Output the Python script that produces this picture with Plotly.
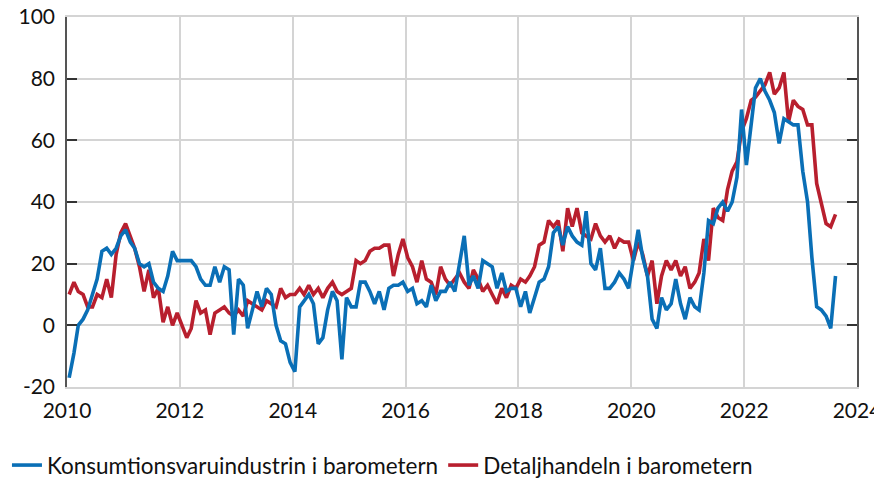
import pandas as pd
import plotly.graph_objects as go

start_month = "2010-01-01"
n_months = 164

konsumtion = [
    -17, -9, 0, 2, 5, 10, 15, 24, 25, 23, 25, 29,
    31, 27, 25, 20, 19, 20, 14, 12, 11, 16, 24, 21,
    21, 21, 21, 19, 15, 13, 13, 19, 14, 19, 18, -3,
    15, 13, -1, 5, 11, 6, 12, 10, 0, -5, -6, -12,
    -15, 6, 8, 10, 7, -6, -4, 5, 11, 8, -11, 9,
    6, 6, 14, 14, 11, 7, 11, 5, 12, 13, 13, 14,
    11, 12, 7, 8, 6, 13, 8, 11, 11, 14, 11, 20,
    29, 13, 16, 12, 21, 20, 19, 12, 17, 11, 12, 12,
    6, 11, 4, 9, 14, 15, 19, 30, 32, 26, 32, 29,
    27, 26, 37, 20, 18, 25, 12, 12, 14, 17, 15, 12,
    22, 31, 22, 16, 2, -1, 9, 5, 7, 15, 7, 2,
    9, 6, 5, 17, 34, 33, 38, 40, 37, 40, 48, 70,
    52, 65, 77, 80, 76, 73, 69, 59, 67, 66, 65, 65,
    50, 40, 22, 6, 5, 3, -1, 16,
]

detaljhandel = [
    10, 14, 11, 10, 6, 6, 10, 9, 15, 9, 23, 30,
    33, 29, 25, 19, 11, 18, 9, 12, 1, 6, 0, 4,
    0, -4, -1, 8, 4, 5, -3, 4, 5, 6, 4, 3,
    5, 3, 8, 7, 6, 5, 8, 7, 6, 12, 9, 10,
    10, 12, 10, 13, 10, 12, 9, 12, 14, 11, 10, 11,
    12, 21, 20, 21, 24, 25, 25, 26, 26, 16, 23, 28,
    22, 19, 14, 21, 15, 14, 10, 19, 15, 13, 15, 17,
    14, 12, 18, 15, 11, 13, 10, 7, 12, 9, 13, 12,
    15, 14, 16, 19, 26, 27, 34, 32, 34, 24, 38, 32,
    38, 30, 29, 28, 33, 29, 27, 29, 25, 28, 27, 27,
    21, 27, 23, 16, 21, 7, 16, 21, 18, 21, 16, 19,
    12, 14, 17, 28, 21, 38, 35, 34, 44, 50, 53, 63,
    67, 73, 74, 76, 78, 82, 75, 77, 82, 66, 73, 71,
    70, 65, 65, 46, 40, 33, 32, 36,
]

series_names = ["Konsumtionsvaruindustrin i barometern", "Detaljhandeln i barometern"]
y_ticks = [-20, 0, 20, 40, 60, 80, 100]
y_tick_text = ["-20", "0", "20", "40", "60", "80", "100"]

dates = pd.date_range(start_month, periods=n_months, freq="MS") + pd.Timedelta(days=14)
assert len(konsumtion) == n_months and len(detaljhandel) == n_months

BLUE = "#0a6fb6"
RED = "#b81f2e"
FONT = "Lato, 'Liberation Sans', sans-serif"

fig = go.Figure()
fig.add_trace(go.Scatter(x=dates, y=detaljhandel, mode="lines", name=series_names[1],
                         line=dict(color=RED, width=3.6), legendrank=2))
fig.add_trace(go.Scatter(x=dates, y=konsumtion, mode="lines", name=series_names[0],
                         line=dict(color=BLUE, width=3.6), legendrank=1))

fig.update_layout(
    width=874, height=471,
    margin=dict(l=59, r=25, t=9, b=92, autoexpand=False),
    paper_bgcolor="white", plot_bgcolor="white",
    font=dict(family=FONT, size=21, color="#111111"),
    showlegend=True,
    legend=dict(orientation="h", x=-0.076, xanchor="left", y=-0.212, yanchor="middle",
                font=dict(size=22.5), itemwidth=30, tracegroupgap=0, bgcolor="rgba(0,0,0,0)"),
)
fig.update_xaxes(
    type="date", automargin=False,
    range=["2010-01-01", "2024-01-01"],
    dtick="M24", tick0="2010-01-01", tickformat="%Y",
    showgrid=True, gridcolor="#d4d4d4", gridwidth=1.5,
    showline=True, linecolor="#d4d4d4", linewidth=1.5, mirror=True,
    ticks="", ticklabelstandoff=4, ticklabeloverflow="allow",
    zeroline=False,
)
fig.update_yaxes(
    automargin=False,
    range=[-20, 100], tickvals=y_ticks, ticktext=y_tick_text,
    showgrid=True, gridcolor="#d4d4d4", gridwidth=1.5,
    showline=True, linecolor="#555555", linewidth=1.5, mirror="ticks",
    ticks="inside", ticklen=10, tickcolor="#333333", tickwidth=1.5,
    ticklabelstandoff=6, ticklabeloverflow="allow",
    zeroline=False,
)

fig.write_html("out.html")
